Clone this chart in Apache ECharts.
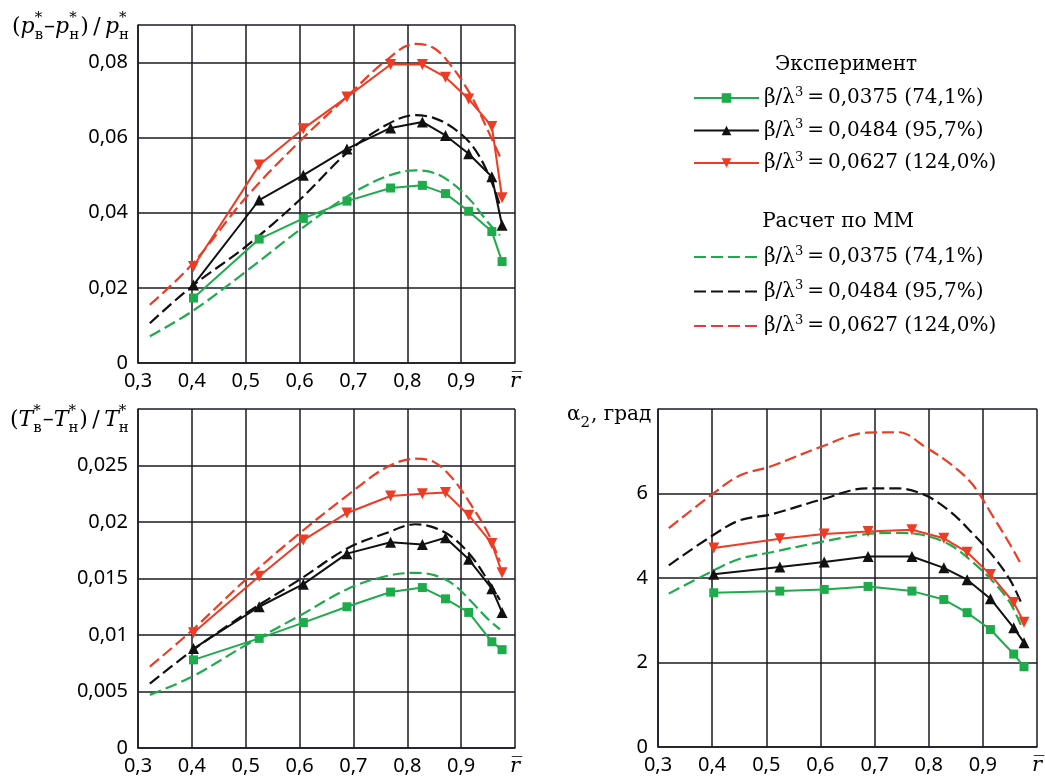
<!DOCTYPE html>
<html>
<head>
<meta charset="utf-8">
<script src="https://cdn.jsdelivr.net/npm/echarts@6/dist/echarts.min.js"></script>
<style>
html, body { margin: 0; padding: 0; background: #fff; }
#chart { width: 1045px; height: 782px; }
</style>
</head>
<body>
<div id="chart"></div>
<script>
// measured radii (r bar) - same for all three plots
var rExp = [0.403, 0.525, 0.607, 0.688, 0.769, 0.828, 0.871, 0.914, 0.957, 0.976];
// radii of the model curves
var rCalc = [0.322, 0.4, 0.5, 0.6, 0.69, 0.76, 0.815, 0.85, 0.885, 0.92, 0.95, 0.972];
var rCalcA = [0.32, 0.4, 0.45, 0.51, 0.6, 0.685, 0.745, 0.795, 0.84, 0.88, 0.92, 0.95, 0.97];

// (p*в - p*н)/p*н
var pExp1 = [0.0173, 0.033, 0.0385, 0.0431, 0.0466, 0.0473, 0.0451, 0.0404, 0.035, 0.027];
var pExp2 = [0.0208, 0.0434, 0.05, 0.057, 0.0626, 0.0642, 0.0606, 0.0557, 0.0496, 0.0367];
var pExp3 = [0.0257, 0.0527, 0.0624, 0.0708, 0.0795, 0.0795, 0.0761, 0.0703, 0.063, 0.044];
var pCalc1 = [0.0071, 0.0137, 0.0243, 0.0354, 0.0445, 0.0496, 0.0513, 0.0506, 0.0477, 0.0429, 0.0374, 0.034];
var pCalc2 = [0.0106, 0.0204, 0.031, 0.0434, 0.0562, 0.0633, 0.066, 0.0652, 0.0626, 0.058, 0.0505, 0.042];
var pCalc3 = [0.0155, 0.0262, 0.044, 0.059, 0.0712, 0.0805, 0.085, 0.0838, 0.0785, 0.0708, 0.0618, 0.055];

// (T*в - T*н)/T*н
var tExp1 = [0.0078, 0.0097, 0.0111, 0.0125, 0.0138, 0.0142, 0.0132, 0.012, 0.0094, 0.0087];
var tExp2 = [0.0088, 0.0125, 0.0145, 0.0172, 0.0182, 0.018, 0.0186, 0.0167, 0.0141, 0.012];
var tExp3 = [0.0102, 0.0152, 0.0184, 0.0208, 0.0223, 0.0225, 0.0226, 0.0206, 0.0181, 0.0155];
var tCalc1 = [0.0047, 0.0063, 0.0091, 0.0117, 0.0141, 0.0152, 0.0155, 0.0153, 0.0145, 0.0129, 0.0114, 0.0105];
var tCalc2 = [0.0057, 0.0086, 0.0119, 0.0149, 0.0177, 0.019, 0.0198, 0.0195, 0.0186, 0.0169, 0.0148, 0.0131];
var tCalc3 = [0.0072, 0.0104, 0.0149, 0.019, 0.0224, 0.0248, 0.0256, 0.0253, 0.0238, 0.0214, 0.019, 0.0165];

// alpha2, град
var aExp1 = [3.65, 3.69, 3.73, 3.8, 3.69, 3.49, 3.18, 2.78, 2.2, 1.9];
var aExp2 = [4.09, 4.26, 4.38, 4.51, 4.51, 4.24, 3.96, 3.51, 2.82, 2.47];
var aExp3 = [4.71, 4.93, 5.04, 5.1, 5.14, 4.94, 4.61, 4.08, 3.42, 2.95];
var aCalc1 = [3.63, 4.16, 4.45, 4.61, 4.85, 5.04, 5.07, 5.0, 4.78, 4.39, 3.9, 3.42, 2.89];
var aCalc2 = [4.3, 5.0, 5.36, 5.51, 5.85, 6.12, 6.12, 5.95, 5.57, 5.07, 4.5, 3.96, 3.44];
var aCalc3 = [5.18, 5.98, 6.42, 6.65, 7.1, 7.44, 7.45, 7.09, 6.7, 6.23, 5.43, 4.8, 4.34];

var regimes = ['0,0375 (74,1%)', '0,0484 (95,7%)', '0,0627 (124,0%)'];

var GREEN = '#1eab4b', BLACK = '#111111', RED = '#ee3b24', GRID = '#1a1a24';
var colors = [GREEN, BLACK, RED];
var SERIF = "'DejaVu Serif', serif";
var SANS = "'Noto Sans', sans-serif";

function pairs(xs, ys) {
  return ys.map(function (y, i) { return [xs[i], y]; });
}

function comma(v, digits) {
  return String(+v.toFixed(digits)).replace('.', ',');
}

function xAxis(gi) {
  return {
    type: 'value', gridIndex: gi, min: 0.3, max: 1, interval: 0.1,
    axisLine: { lineStyle: { color: GRID, width: 1.5 } },
    axisTick: { show: false },
    splitLine: { lineStyle: { color: GRID, width: 1.5 } },
    axisLabel: {
      margin: 8, color: '#000', fontFamily: SANS, fontSize: 20, hideOverlap: false,
      formatter: function (v) {
        if (Math.abs(v - 1) < 1e-6) return '{r|r\u0305}';
        return comma(v, 1);
      },
      rich: { r: { fontFamily: SERIF, fontStyle: 'italic', fontSize: 21 } }
    }
  };
}

function yAxis(gi, max, step, digits) {
  return {
    type: 'value', gridIndex: gi, min: 0, max: max, interval: step,
    axisLine: { show: true, lineStyle: { color: GRID, width: 1.5 } },
    axisTick: { show: false },
    splitLine: { lineStyle: { color: GRID, width: 1.5 } },
    axisLabel: {
      margin: 10, color: '#000', fontFamily: SANS, fontSize: 20, hideOverlap: false,
      formatter: function (v) {
        var k = v / step;
        if (Math.abs(k - Math.round(k)) > 1e-6 || v > max - 1e-9) return '';
        return comma(v, digits);
      }
    }
  };
}

var series = [];
function addPlot(gi, xsC, exp, calc) {
  var symbols = ['rect', 'triangle', 'triangle'];
  var sizes = [9, 11, 11];
  var rots = [0, 0, 180];
  for (var i = 0; i < 3; i++) {
    series.push({
      name: 'calc' + i, type: 'line', xAxisIndex: gi, yAxisIndex: gi,
      data: pairs(xsC, calc[i]), smooth: 0.35, showSymbol: false, symbol: 'none',
      lineStyle: { color: colors[i], width: 2.2, type: [12, 5] },
      itemStyle: { color: colors[i] }, z: 2
    });
  }
  for (var j = 0; j < 3; j++) {
    series.push({
      name: 'exp' + j, type: 'line', xAxisIndex: gi, yAxisIndex: gi,
      data: pairs(rExp, exp[j]), symbol: symbols[j], symbolSize: sizes[j], symbolRotate: rots[j],
      lineStyle: { color: colors[j], width: 2 },
      itemStyle: { color: colors[j] }, z: 3
    });
  }
}
addPlot(0, rCalc, [pExp1, pExp2, pExp3], [pCalc1, pCalc2, pCalc3]);
addPlot(1, rCalc, [tExp1, tExp2, tExp3], [tCalc1, tCalc2, tCalc3]);
addPlot(2, rCalcA, [aExp1, aExp2, aExp3], [aCalc1, aCalc2, aCalc3]);

// axis titles with stacked super/subscripts
var ctx = document.createElement('canvas').getContext('2d');
function formula(x, y, size, parts) {
  var els = [], cx = x;
  parts.forEach(function (p) {
    if (typeof p === 'string') p = { t: p };
    if (p.sup !== undefined) {
      var f2 = '15px ' + SERIF;
      ctx.font = f2;
      var w = Math.max(ctx.measureText(p.sup).width, ctx.measureText(p.sub).width);
      els.push({ type: 'text', x: cx, y: y - 9, style: { text: p.sup, font: f2, fill: '#000', verticalAlign: 'middle' } });
      els.push({ type: 'text', x: cx, y: y + 8, style: { text: p.sub, font: f2, fill: '#000', verticalAlign: 'middle' } });
      cx += w + 1;
    } else {
      var f = (p.i ? 'italic ' : '') + size + 'px ' + SERIF;
      ctx.font = f;
      els.push({ type: 'text', x: cx, y: y, style: { text: p.t, font: f, fill: '#000', verticalAlign: 'middle' } });
      cx += ctx.measureText(p.t).width;
    }
  });
  return els;
}

var graphics = []
  .concat(formula(12, 27, 22, ['(', { t: 'p', i: 1 }, { sup: '*', sub: 'в' }, '\u2013', { t: 'p', i: 1 }, { sup: '*', sub: 'н' }, ')\u2009/\u2009', { t: 'p', i: 1 }, { sup: '*', sub: 'н' }]))
  .concat(formula(10, 420, 22, ['(', { t: 'T', i: 1 }, { sup: '*', sub: 'в' }, '\u2013', { t: 'T', i: 1 }, { sup: '*', sub: 'н' }, ')\u2009/\u2009', { t: 'T', i: 1 }, { sup: '*', sub: 'н' }]))
  .concat(formula(567, 415, 20, ['\u03b1', { sup: '', sub: '2' }, ', град']));

graphics.push({ type: 'text', x: 846, y: 65, style: { text: 'Эксперимент', font: '20px ' + SERIF, fill: '#000', align: 'center', verticalAlign: 'middle' } });
graphics.push({ type: 'text', x: 838, y: 222, style: { text: 'Расчет по ММ', font: '20px ' + SERIF, fill: '#000', align: 'center', verticalAlign: 'middle' } });

var legendRich = {
  t: { fontFamily: SERIF, fontSize: 20, lineHeight: 24, color: '#000' },
  s: { fontFamily: SERIF, fontSize: 13, lineHeight: 16, verticalAlign: 'top', color: '#000' }
};
function legendText(name) {
  var k = +name.slice(-1);
  return '{t|\u03b2/\u03bb}{s|3}{t|\u2009=\u2009' + regimes[k] + '}';
}
function legend(prefix, top, gap, hideMarker) {
  var lg = {
    orient: 'vertical', left: 688, top: top, itemWidth: 65, itemHeight: 12, itemGap: gap,
    selectedMode: false, data: [prefix + '0', prefix + '1', prefix + '2'],
    formatter: legendText, textStyle: { rich: legendRich }
  };
  if (hideMarker) lg.itemStyle = { opacity: 0 };
  return lg;
}

var chart = echarts.init(document.getElementById('chart'));
chart.setOption({
  backgroundColor: '#fff',
  animation: false,
  grid: [
    { left: 138, top: 25, width: 377, height: 338 },
    { left: 138, top: 409, width: 377, height: 339 },
    { left: 658, top: 409, width: 379, height: 338 }
  ],
  xAxis: [xAxis(0), xAxis(1), xAxis(2)],
  yAxis: [
    yAxis(0, 0.09, 0.02, 2),
    yAxis(1, 0.03, 0.005, 3),
    yAxis(2, 8, 2, 0)
  ],
  legend: [legend('exp', 81, 10.5, false), legend('calc', 240, 12.5, true)],
  graphic: graphics,
  series: series
});
</script>
</body>
</html>
